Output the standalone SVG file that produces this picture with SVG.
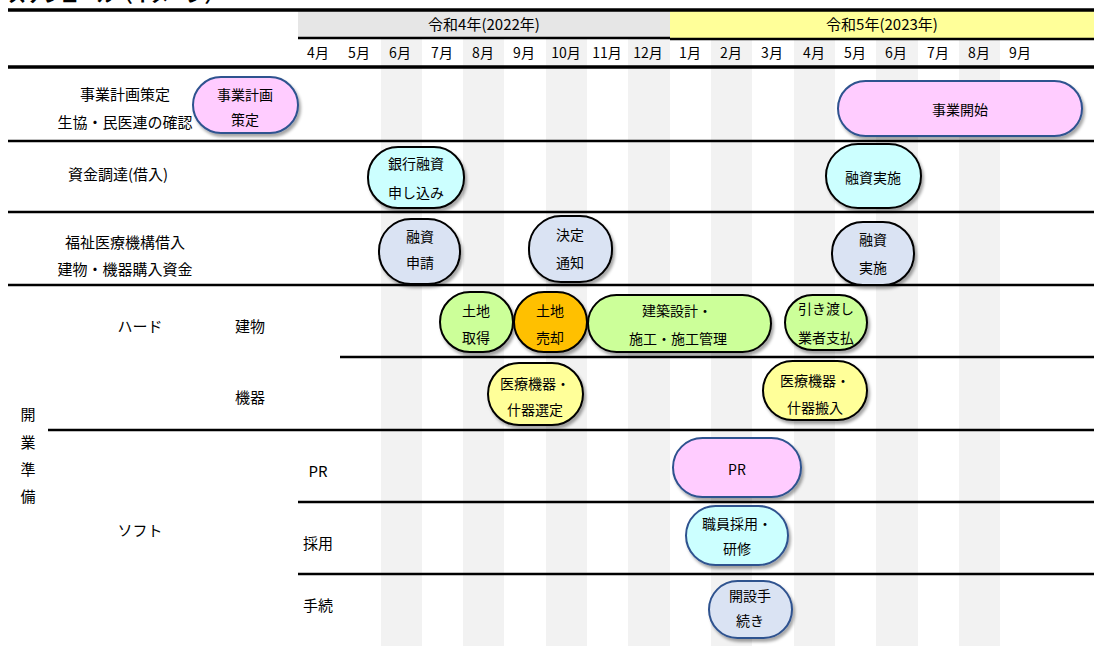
<svg xmlns="http://www.w3.org/2000/svg" width="1094" height="646" viewBox="0 0 1094 646">
<style>
text{font-family:"Noto Sans CJK JP","Noto Sans",sans-serif;fill:#000;text-anchor:middle;dominant-baseline:central}
.t{font-size:15px}
.m{font-size:14px}
.h{font-size:15px}
.n{font-size:14px}
.ln{stroke:#000;stroke-width:2.5;fill:none}
.stripe{fill:#f2f2f2}
.node{stroke-width:2}
.b{stroke:#2f528f}
.k{stroke:#000}
.pink{fill:#ffccff}
.cyan{fill:#ccffff}
.lb{fill:#dae3f3}
.green{fill:#ccff99}
.orange{fill:#ffc000}
.yellow{fill:#ffff99}
</style>
<defs>
<filter id="sh" x="-10%" y="-10%" width="130%" height="140%">
<feDropShadow dx="2" dy="3" stdDeviation="1.5" flood-color="#000" flood-opacity="0.35"/>
</filter>
</defs>
<rect width="1094" height="646" fill="#fff"/>
<text x="8" y="-6" style="font-size:18px;font-weight:bold;text-anchor:start">スケジュール（イメージ）</text>
<g id="header">
<rect x="298" y="10" width="372" height="28" fill="#e6e6e6"/>
<rect x="670" y="10" width="424" height="29" fill="#ffff99"/>
<g class="stripe">
<rect x="381" y="38" width="41" height="608"/>
<rect x="463" y="38" width="41" height="608"/>
<rect x="546" y="38" width="41" height="608"/>
<rect x="628" y="38" width="42" height="608"/>
<rect x="711" y="39" width="41" height="607"/>
<rect x="794" y="39" width="41" height="607"/>
<rect x="876" y="39" width="42" height="607"/>
<rect x="959" y="39" width="41" height="607"/>
</g>
<text class="h" x="484" y="23">令和4年(2022年)</text>
<text class="h" x="882" y="23">令和5年(2023年)</text>
<g class="m">
<text x="318" y="52">4月</text>
<text x="359" y="52">5月</text>
<text x="400" y="52">6月</text>
<text x="442" y="52">7月</text>
<text x="483" y="52">8月</text>
<text x="524" y="52">9月</text>
<text x="566" y="52">10月</text>
<text x="607" y="52">11月</text>
<text x="648" y="52">12月</text>
<text x="690" y="52">1月</text>
<text x="731" y="52">2月</text>
<text x="772" y="52">3月</text>
<text x="814" y="52">4月</text>
<text x="855" y="52">5月</text>
<text x="896" y="52">6月</text>
<text x="938" y="52">7月</text>
<text x="979" y="52">8月</text>
<text x="1020" y="52">9月</text>
</g>
</g>
<g id="grid-lines">
<line class="ln" x1="8" y1="10" x2="1094" y2="10" style="stroke-width:3.5"/>
<line class="ln" x1="298" y1="38" x2="670" y2="38"/>
<line class="ln" x1="670" y1="39" x2="1094" y2="39"/>
<line class="ln" x1="8" y1="67" x2="1094" y2="67" style="stroke-width:3.5"/>
<line class="ln" x1="8" y1="141" x2="1094" y2="141"/>
<line class="ln" x1="8" y1="212" x2="1094" y2="212"/>
<line class="ln" x1="8" y1="285" x2="1094" y2="285"/>
<line class="ln" x1="340" y1="357" x2="1094" y2="357"/>
<line class="ln" x1="48" y1="430" x2="1094" y2="430"/>
<line class="ln" x1="298" y1="502" x2="1094" y2="502"/>
<line class="ln" x1="298" y1="574" x2="1094" y2="574"/>
</g>
<g id="row-labels" class="t">
<text x="125" y="93">事業計画策定</text>
<text x="125" y="121">生協・民医連の確認</text>
<text x="118" y="173">資金調達(借入)</text>
<text x="125" y="241">福祉医療機構借入</text>
<text x="125" y="268">建物・機器購入資金</text>
<text x="140" y="325">ハード</text>
<text x="250" y="325">建物</text>
<text x="250" y="396">機器</text>
<text x="28" y="413">開</text>
<text x="28" y="441">業</text>
<text x="28" y="468">準</text>
<text x="28" y="495">備</text>
<text x="140" y="529">ソフト</text>
<text x="318" y="470">PR</text>
<text x="318" y="542">採用</text>
<text x="318" y="604">手続</text>
</g>
<g id="n-jigyokeikaku"><rect class="node b pink" filter="url(#sh)" x="193" y="77" width="105" height="56" rx="28"/><text class="n" x="245" y="94">事業計画</text><text class="n" x="245" y="119">策定</text></g>
<g id="n-kaishi"><rect class="node b pink" filter="url(#sh)" x="838" y="81" width="244" height="55" rx="27.5"/><text class="n" x="960" y="109">事業開始</text></g>
<g id="n-ginko"><rect class="node k cyan" filter="url(#sh)" x="368" y="147" width="96" height="61" rx="30"/><text class="n" x="416" y="163">銀行融資</text><text class="n" x="416" y="192">申し込み</text></g>
<g id="n-yushi-jisshi1"><rect class="node k cyan" filter="url(#sh)" x="826" y="144" width="95" height="64" rx="32"/><text class="n" x="873" y="177">融資実施</text></g>
<g id="n-yushi-shinsei"><rect class="node k lb" filter="url(#sh)" x="379" y="219" width="81" height="65" rx="32"/><text class="n" x="420" y="236">融資</text><text class="n" x="420" y="262">申請</text></g>
<g id="n-kettei"><rect class="node k lb" filter="url(#sh)" x="529" y="216" width="83" height="66" rx="32"/><text class="n" x="570" y="234">決定</text><text class="n" x="570" y="262">通知</text></g>
<g id="n-yushi-jisshi2"><rect class="node k lb" filter="url(#sh)" x="832" y="222" width="82" height="63" rx="31"/><text class="n" x="873" y="239">融資</text><text class="n" x="873" y="267">実施</text></g>
<g id="n-tochi-shutoku"><rect class="node k green" filter="url(#sh)" x="440" y="292" width="73" height="60" rx="30"/><text class="n" x="476" y="310">土地</text><text class="n" x="476" y="337">取得</text></g>
<g id="n-tochi-baikyaku"><rect class="node k orange" filter="url(#sh)" x="514" y="292" width="73" height="60" rx="30"/><text class="n" x="550" y="310">土地</text><text class="n" x="550" y="337">売却</text></g>
<g id="n-kenchiku"><rect class="node k green" filter="url(#sh)" x="588" y="295" width="183" height="57" rx="28.5"/><text class="n" x="677" y="310">建築設計・</text><text class="n" x="678" y="338">施工・施工管理</text></g>
<g id="n-hikiwatashi"><rect class="node k green" filter="url(#sh)" x="785" y="295" width="82" height="55" rx="27.5"/><text class="n" x="826" y="308">引き渡し</text><text class="n" x="826" y="337">業者支払</text></g>
<g id="n-iryokiki-sentei"><rect class="node k yellow" filter="url(#sh)" x="488" y="363" width="95" height="62" rx="31"/><text class="n" x="535" y="383">医療機器・</text><text class="n" x="535" y="409">什器選定</text></g>
<g id="n-iryokiki-hannyu"><rect class="node k yellow" filter="url(#sh)" x="763" y="361" width="104" height="59" rx="29.5"/><text class="n" x="815" y="380">医療機器・</text><text class="n" x="815" y="407">什器搬入</text></g>
<g id="n-pr"><rect class="node b pink" filter="url(#sh)" x="673" y="438" width="128" height="59" rx="29.5"/><text class="n" x="737" y="469">PR</text></g>
<g id="n-saiyo"><rect class="node b cyan" filter="url(#sh)" x="686" y="506" width="102" height="59" rx="29.5"/><text class="n" x="737" y="523">職員採用・</text><text class="n" x="737" y="548">研修</text></g>
<g id="n-kaisetsu"><rect class="node b lb" filter="url(#sh)" x="709" y="581" width="83" height="57" rx="28.5"/><text class="n" x="750" y="595">開設手</text><text class="n" x="750" y="620">続き</text></g>
<g id="connectors"></g>
</svg>
